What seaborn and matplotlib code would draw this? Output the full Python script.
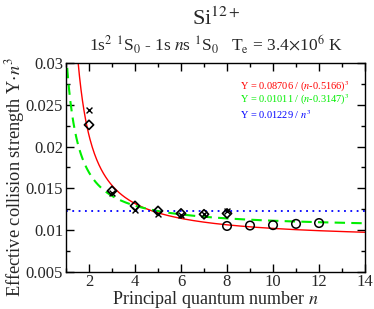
import numpy as np
import matplotlib
matplotlib.use('Agg')
import matplotlib.pyplot as plt
import seaborn as sns

# values
n_pts = [2, 3, 4, 5, 6, 7, 8]
y_diamond = [0.0226, 0.0147, 0.0129, 0.0123, 0.0120, 0.0119, 0.0120]
y_cross = [0.0244, 0.0144, 0.0124, 0.0119, 0.0118, 0.0119, 0.0123]
n_circ = [8, 9, 10, 11, 12]
y_circ = [0.0105, 0.01055, 0.0106, 0.01075, 0.01085]

# fit parameters (curves are Y*n^3 = A*n^3/(n-d)^3)
red_A, red_d = 0.008706, 0.5166
green_A, green_d = 0.01011, 0.3147
blue_A = 0.01229

sns.set_style('ticks')
plt.rcParams['font.family'] = ['Liberation Serif', 'DejaVu Serif']
plt.rcParams['mathtext.fontset'] = 'stix'

fig = plt.figure(figsize=(3.74, 3.09), dpi=100)
ax = fig.add_axes([0.1765, 0.12, 0.7995, 0.676])

nn = np.linspace(1.0, 14, 400)
sns.lineplot(x=nn, y=red_A * nn**3 / (nn - red_d)**3, color='red', lw=1.0, ax=ax)
sns.lineplot(x=nn, y=green_A * nn**3 / (nn - green_d)**3, color='#00ee00', lw=1.5,
             linestyle=(0, (5, 3)), ax=ax)
ax.axhline(blue_A, color='blue', lw=1.3, linestyle=(0, (1, 2.5)))

sns.scatterplot(x=n_pts, y=y_cross, marker='x', color='black', s=18, linewidth=1.0, ax=ax, zorder=5)
sns.scatterplot(x=n_pts, y=y_diamond, marker='D', facecolor='none', edgecolor='black', s=22,
                linewidth=1.2, ax=ax, zorder=6)
sns.scatterplot(x=n_circ, y=y_circ, marker='o', facecolor='none', edgecolor='black', s=38,
                linewidth=1.1, ax=ax, zorder=6)

ax.set_xlim(1, 14)
ax.set_ylim(0.005, 0.03)
ax.set_xticks([2, 4, 6, 8, 10, 12, 14])
ax.set_xticks(range(1, 15), minor=True)
ax.set_yticks([0.005, 0.01, 0.015, 0.02, 0.025, 0.03])
ax.set_yticklabels(['0.005', '0.01', '0.015', '0.02', '0.025', '0.03'])
ax.set_yticks(np.arange(0.005, 0.0301, 0.0025), minor=True)
ax.tick_params(which='both', direction='in', top=True, right=True, labelsize=12, width=1, color='black')
ax.tick_params(axis='x', pad=1.5)
ax.tick_params(axis='y', pad=2)
ax.tick_params(which='major', length=6)
ax.tick_params(which='minor', length=3)
for sp in ax.spines.values():
    sp.set_visible(True)
    sp.set_linewidth(1.0)
    sp.set_color('black')

ax.set_xlabel('Principal quantum number $n$', fontsize=13, labelpad=-1)
ax.set_ylabel(r'Effective collision strength Y$\cdot n^3$', fontsize=13.2, va='center')
ax.yaxis.set_label_coords(-0.17, 0.455)

ax.text(0.582, 0.887, r'Y = 0.08706 / ($n$-0.5166)$^3$', color='red', fontsize=7.5,
        ha='left', va='center', transform=ax.transAxes)
ax.text(0.582, 0.823, r'Y = 0.01011 / ($n$-0.3147)$^3$', color='#00ee00', fontsize=7.5,
        ha='left', va='center', transform=ax.transAxes)
ax.text(0.582, 0.751, r'Y = 0.01229 / $n^3$', color='blue', fontsize=7.5,
        ha='left', va='center', transform=ax.transAxes)

fig.text(0.578, 0.94, r'Si$^{12+}$', fontsize=16, ha='center', va='center')
fig.text(0.578, 0.855, r'1s$^2$ $^1$S$_0$ - 1s $n$s $^1$S$_0$   T$_{\rm e}$ = 3.4$\times$10$^6$ K',
         fontsize=12.5, ha='center', va='center')

fig.savefig('out.png', dpi=100)
